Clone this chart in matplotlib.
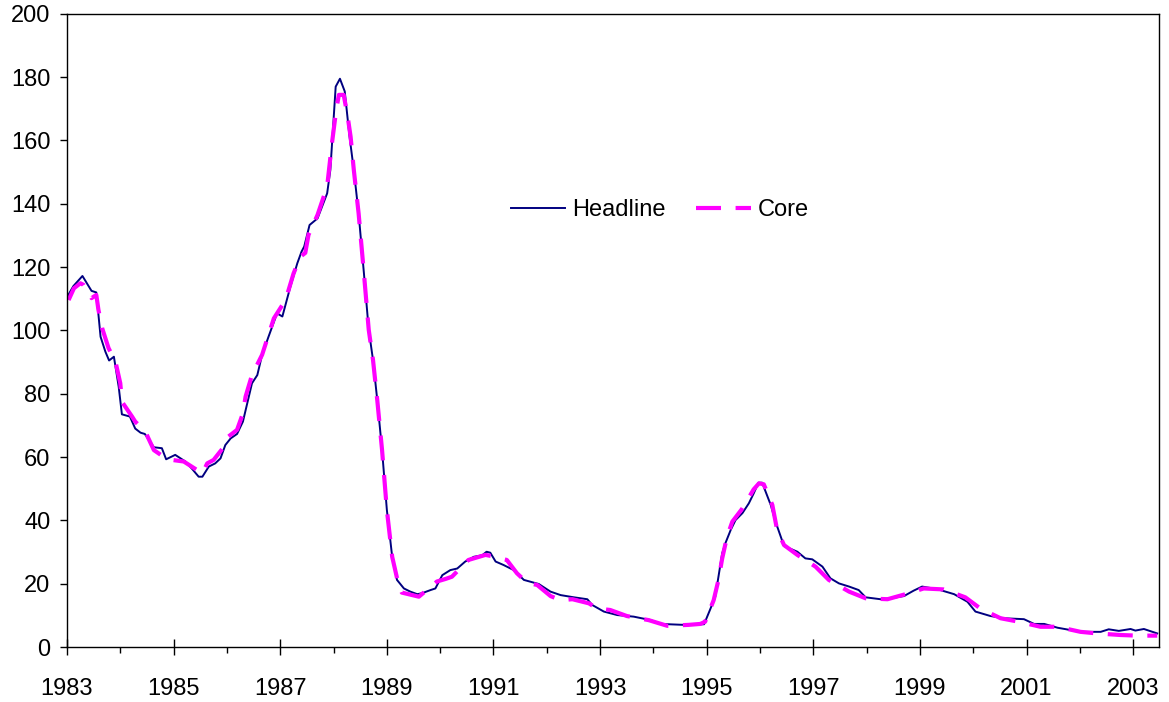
import numpy as np
import matplotlib.pyplot as plt
from matplotlib.ticker import MultipleLocator

plt.rcParams['font.family'] = ['Liberation Sans', 'DejaVu Sans']

# headline inflation (decimal year, value)
headline_t = [1983.00, 1983.12, 1983.29, 1983.46, 1983.55, 1983.63, 1983.72, 1983.79, 1983.88, 1983.97,
              1984.03, 1984.18, 1984.28, 1984.38, 1984.46, 1984.63, 1984.78, 1984.86, 1985.03, 1985.22,
              1985.35, 1985.47, 1985.54, 1985.66, 1985.78, 1985.88, 1985.97, 1986.07, 1986.19, 1986.30,
              1986.41, 1986.47, 1986.57, 1986.66, 1986.78, 1986.94, 1987.04, 1987.19, 1987.32, 1987.40,
              1987.45, 1987.55, 1987.70, 1987.88, 1987.94, 1988.04, 1988.12, 1988.21, 1988.30, 1988.38,
              1988.47, 1988.57, 1988.66, 1988.74, 1988.82, 1988.91, 1989.00, 1989.10, 1989.19, 1989.32,
              1989.44, 1989.57, 1989.66, 1989.82, 1989.91, 1990.04, 1990.19, 1990.32, 1990.47, 1990.63,
              1990.79, 1990.87, 1990.94, 1991.04, 1991.19, 1991.38, 1991.57, 1991.85, 1992.07, 1992.26,
              1992.51, 1992.76, 1992.85, 1993.07, 1993.32, 1993.63, 1993.95, 1994.13, 1994.57, 1994.95,
              1995.06, 1995.16, 1995.22, 1995.29, 1995.35, 1995.45, 1995.54, 1995.67, 1995.79, 1995.88,
              1995.97, 1996.04, 1996.20, 1996.29, 1996.45, 1996.70, 1996.85, 1996.98, 1997.17, 1997.32,
              1997.48, 1997.67, 1997.85, 1997.98, 1998.26, 1998.45, 1998.70, 1998.88, 1999.04, 1999.32,
              1999.64, 1999.89, 2000.04, 2000.32, 2000.57, 2000.95, 2001.14, 2001.33, 2001.58, 2002.01,
              2002.39, 2002.54, 2002.73, 2002.95, 2003.04, 2003.20, 2003.45]
headline_v = [110.5, 114.0, 117.2, 112.5, 112.0, 98.0, 93.3, 90.5, 91.7, 82.2,
              73.5, 72.8, 69.0, 67.7, 67.3, 63.1, 62.8, 59.3, 60.7, 58.6,
              56.2, 53.8, 53.8, 57.0, 58.0, 59.6, 63.8, 65.9, 67.3, 71.2,
              79.1, 83.3, 85.9, 92.3, 98.0, 105.4, 104.4, 113.8, 121.2, 124.9,
              126.5, 133.3, 135.4, 143.3, 150.7, 177.0, 179.5, 175.5, 161.2, 150.7,
              137.0, 118.0, 100.2, 90.7, 78.0, 62.2, 43.3, 28.5, 21.2, 18.5,
              17.5, 16.7, 17.0, 18.0, 18.5, 22.7, 24.3, 24.8, 27.0, 28.5,
              29.0, 30.1, 29.8, 27.0, 25.9, 24.3, 21.2, 19.9, 17.5, 16.4,
              15.7, 15.1, 13.3, 11.2, 10.1, 9.6, 8.5, 7.3, 7.0, 7.2,
              11.7, 15.9, 22.2, 29.6, 32.8, 37.0, 40.1, 42.3, 45.4, 48.5,
              51.9, 51.9, 44.9, 39.6, 31.9, 30.1, 28.0, 27.7, 25.4, 21.7,
              20.1, 19.1, 18.0, 15.7, 15.1, 15.4, 16.1, 17.8, 19.1, 18.3,
              16.7, 14.3, 11.2, 9.8, 9.1, 8.8, 7.3, 7.3, 6.1, 4.8,
              4.8, 5.6, 5.1, 5.7, 5.2, 5.7, 4.3]

# core inflation
core_t = [1983.03, 1983.13, 1983.25, 1983.31, 1983.46, 1983.55, 1983.59, 1983.66, 1983.78, 1983.91,
          1984.00, 1984.03, 1984.22, 1984.28, 1984.47, 1984.63, 1984.88, 1985.19, 1985.44, 1985.54,
          1985.63, 1985.75, 1985.97, 1986.03, 1986.19, 1986.30, 1986.35, 1986.47, 1986.66, 1986.88,
          1987.10, 1987.25, 1987.38, 1987.47, 1987.53, 1987.70, 1987.88, 1987.97, 1988.05, 1988.10,
          1988.19, 1988.26, 1988.32, 1988.38, 1988.47, 1988.57, 1988.66, 1988.74, 1988.82, 1988.91,
          1989.00, 1989.10, 1989.22, 1989.28, 1989.60, 1989.94, 1990.10, 1990.22, 1990.53, 1990.85,
          1991.00, 1991.25, 1991.44, 1991.63, 1991.82, 1992.07, 1992.26, 1992.48, 1992.79, 1992.94,
          1993.19, 1993.50, 1993.91, 1994.26, 1994.66, 1994.88, 1994.97, 1995.13, 1995.22, 1995.29,
          1995.38, 1995.48, 1995.67, 1995.88, 1995.98, 1996.07, 1996.23, 1996.32, 1996.45, 1996.70,
          1997.04, 1997.29, 1997.67, 1997.98, 1998.39, 1998.73, 1999.07, 1999.44, 1999.69, 1999.85,
          2000.13, 2000.51, 2000.85, 2001.26, 2001.58, 2002.01, 2002.32, 2002.76, 2003.08, 2003.45]
core_v = [109.6, 113.3, 114.9, 114.4, 110.2, 111.2, 106.5, 100.7, 94.4, 90.1,
          83.3, 77.5, 72.8, 71.2, 68.0, 62.2, 59.3, 58.6, 55.9, 54.8,
          58.0, 59.1, 63.8, 66.5, 68.6, 73.8, 79.1, 85.9, 92.3, 103.8,
          109.6, 118.0, 123.3, 124.5, 130.2, 136.5, 145.5, 159.1, 169.7, 174.4,
          174.4, 168.1, 161.2, 150.7, 137.0, 118.0, 100.2, 90.7, 78.0, 62.2,
          43.3, 28.5, 19.6, 17.2, 15.9, 20.7, 21.5, 22.2, 27.5, 29.1,
          28.6, 27.5, 23.3, 20.3, 19.6, 16.1, 14.8, 15.1, 13.8, 12.2,
          11.7, 9.8, 8.5, 6.7, 7.0, 7.3, 8.0, 14.8, 21.2, 28.0,
          34.8, 39.6, 43.8, 49.8, 51.7, 51.4, 44.9, 37.0, 32.2, 29.1,
          25.4, 21.2, 17.5, 15.4, 15.1, 16.7, 18.5, 18.2, 16.7, 15.7,
          12.2, 9.1, 8.0, 6.4, 6.4, 4.8, 4.3, 3.8, 3.6, 3.6]

year_labels = list(range(1983, 2004, 2))

fig = plt.figure(figsize=(11.69, 7.02), dpi=100)
ax = fig.add_axes([0.0573, 0.0783, 0.934, 0.902])

ax.plot(headline_t, headline_v, color='#000080', lw=1.4, label='Headline')
ax.plot(core_t, core_v, color='#FF00FF', lw=3, dashes=(6, 3.5), label='Core')

ax.set_xlim(1983, 2003.48)
ax.set_ylim(0, 200)
ax.set_xticks(year_labels)
ax.set_xticklabels([str(y) for y in year_labels])
ax.xaxis.set_minor_locator(MultipleLocator(1))
ax.yaxis.set_major_locator(MultipleLocator(20))

ax.tick_params(axis='x', which='major', direction='inout', length=12, width=1, pad=16, labelsize=17)
ax.tick_params(axis='x', which='minor', direction='out', length=4.5, width=1)
ax.tick_params(axis='y', which='major', direction='out', length=5, width=1, pad=7, labelsize=17)
for s in ax.spines.values():
    s.set_linewidth(1)
    s.set_color('black')

ax.legend(loc='center', bbox_to_anchor=(0.543, 0.69), ncol=2, frameon=False, fontsize=17,
          handlelength=2.3, handletextpad=0.3, columnspacing=1.3)

fig.savefig('out.png', dpi=100)
